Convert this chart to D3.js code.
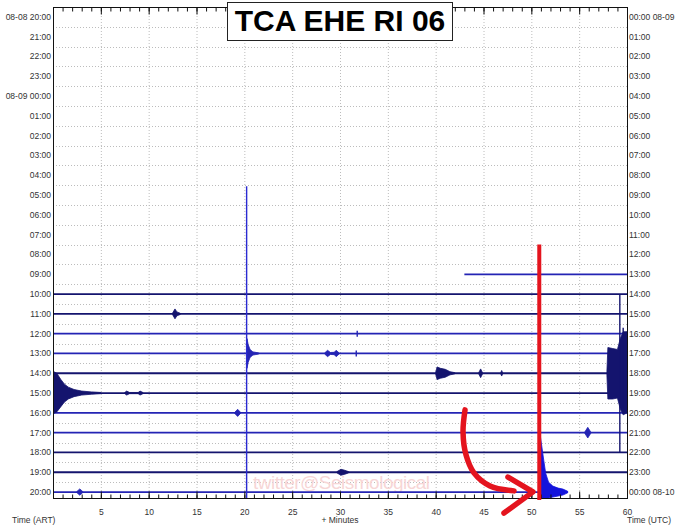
<!DOCTYPE html>
<html>
<head>
<meta charset="utf-8">
<script src="https://cdn.jsdelivr.net/npm/d3@7"></script>
<style>
  body { margin: 0; background: #fff; }
  svg { display: block; font-family: "Liberation Sans", Arial, sans-serif; }
</style>
</head>
<body>
<div id="chart"></div>
<script>
// Row labels (local time on the left, UTC on the right)
const leftLabels = ["08-08 20:00", "21:00", "22:00", "23:00", "08-09 00:00", "01:00", "02:00", "03:00",
  "04:00", "05:00", "06:00", "07:00", "08:00", "09:00", "10:00", "11:00", "12:00", "13:00", "14:00",
  "15:00", "16:00", "17:00", "18:00", "19:00", "20:00"];
const rightLabels = ["00:00 08-09", "01:00", "02:00", "03:00", "04:00", "05:00", "06:00", "07:00",
  "08:00", "09:00", "10:00", "11:00", "12:00", "13:00", "14:00", "15:00", "16:00", "17:00", "18:00",
  "19:00", "20:00", "21:00", "22:00", "23:00", "00:00 08-10"];
const minuteTicks = [5, 10, 15, 20, 25, 30, 35, 40, 45, 50, 55, 60];

// Rows that hold data, with start/end minute of the recorded trace
const traceRows  = [13, 14, 15, 16, 17, 18, 19, 20, 21, 22, 23, 24];
const traceStart = [43, 0, 0, 0, 0, 0, 0, 0, 0, 0, 0, 0];
const traceEnd   = [60, 60, 60, 60, 60, 60, 60, 60, 60, 60, 60, 53.8];

// Event envelopes: [minute, amplitude up, amplitude down] in row units
const eventRows = [15, 17, 17, 18, 18, 18, 18, 19, 19, 20, 21, 23, 24, 24];
const eventEnvelopes = [
  [[12.5, 0.04, 0.04], [12.75, 0.25, 0.25], [12.95, 0.1, 0.1], [13.3, 0.03, 0.03]],
  [[20.24, 0.1, 0.1], [20.28, 0.75, 0.75], [20.4, 0.45, 0.45], [20.6, 0.2, 0.2], [20.9, 0.08, 0.08], [21.5, 0.03, 0.03]],
  [[28.4, 0.03, 0.03], [28.7, 0.16, 0.16], [29.0, 0.05, 0.05], [29.4, 0.06, 0.06], [29.6, 0.16, 0.16], [29.9, 0.03, 0.03]],
  [[40.0, 0.05, 0.05], [40.15, 0.32, 0.32], [40.5, 0.25, 0.25], [41.0, 0.2, 0.2], [41.5, 0.08, 0.08], [42.0, 0.03, 0.03]],
  [[44.5, 0.03, 0.03], [44.7, 0.22, 0.22], [44.9, 0.03, 0.03]],
  [[46.8, 0.03, 0.03], [46.9, 0.14, 0.14], [47.0, 0.03, 0.03]],
  [[57.9, 0.1, 0.1], [58.0, 1.3, 1.3], [58.5, 1.25, 1.3], [59.0, 1.2, 1.25], [59.3, 1.75, 1.8], [59.6, 2.1, 2.1], [60, 2.1, 2.0]],
  [[0, 1.1, 1.05], [0.4, 1.0, 0.95], [0.8, 0.7, 0.7], [1.2, 0.45, 0.45], [1.6, 0.3, 0.3], [2.2, 0.18, 0.18], [3.0, 0.1, 0.1], [4.0, 0.06, 0.06], [5.0, 0.03, 0.03]],
  [[7.5, 0.03, 0.03], [7.7, 0.1, 0.1], [8.0, 0.03, 0.03], [8.9, 0.03, 0.03], [9.1, 0.1, 0.1], [9.4, 0.03, 0.03]],
  [[19.0, 0.03, 0.03], [19.3, 0.18, 0.18], [19.6, 0.03, 0.03]],
  [[55.6, 0.04, 0.04], [55.9, 0.27, 0.27], [56.2, 0.04, 0.04]],
  [[29.7, 0.04, 0.04], [30.1, 0.15, 0.15], [30.5, 0.1, 0.1], [30.9, 0.03, 0.03]],
  [[2.5, 0.03, 0.03], [2.8, 0.16, 0.16], [3.1, 0.03, 0.03]],
  [[50.95, 2.8, 0.35], [51.3, 1.6, 0.35], [51.5, 0.95, 0.35], [51.8, 0.5, 0.3], [52.25, 0.3, 0.25], [52.8, 0.2, 0.2], [53.3, 0.15, 0.15], [53.8, 0.04, 0.04]]
];

// Single spikes: row, minute, amplitude up / down (rows)
const spikeRows    = [17, 16, 17, 18, 18, 24];
const spikeMinutes = [20.24, 31.8, 31.7, 59.25, 59.6, 50.85];
const spikeUp      = [8.45, 0.15, 0.15, 3.95, 2.3, 12.4];
const spikeDown    = [7.5, 0.15, 0.15, 4.0, 1.8, 0.4];

// Hand-drawn annotation: red marker line and arrow, in (minute, row)
const markerLine = [[50.83, 11.5], [50.83, 24.4]];
const arrowCurve = [[43.07, 19.85], [42.86, 20.96], [43.17, 22.12], [44.0, 23.03], [45.68, 23.69], [48.19, 23.94]];
const arrowHead = [[47.56, 23.24], [50.17, 23.99], [47.14, 25.06]];

const width = 680, height = 529;
const margin = { top: 7, right: 53, bottom: 31, left: 53 };

const svg = d3.select("#chart").append("svg")
  .attr("width", width)
  .attr("height", height);

const x = d3.scaleLinear().domain([0, 60]).range([margin.left, width - margin.right]);
const y = d3.scaleLinear().domain([-0.5, 24.3]).range([margin.top, height - margin.bottom]);

svg.append("clipPath").attr("id", "plot-clip")
  .append("rect")
  .attr("x", x(0)).attr("y", y(-0.5))
  .attr("width", x(60) - x(0)).attr("height", y(24.3) - y(-0.5));

// Dotted grid
const grid = svg.append("g")
  .attr("stroke", "#bcbcbc")
  .attr("stroke-dasharray", "1,2")
  .attr("stroke-width", 1);
grid.selectAll("line.v")
  .data(minuteTicks.filter(d => d < 60))
  .join("line")
  .attr("class", "v")
  .attr("x1", d => x(d) + 0.5).attr("x2", d => x(d) + 0.5)
  .attr("y1", y(-0.5)).attr("y2", y(24.3));
grid.selectAll("line.h")
  .data(d3.range(0, 24))
  .join("line")
  .attr("class", "h")
  .attr("x1", x(0)).attr("x2", x(60))
  .attr("y1", d => Math.round(y(d + 0.5)) + 0.5)
  .attr("y2", d => Math.round(y(d + 0.5)) + 0.5);

// Watermark (sits under the traces)
svg.append("text")
  .attr("x", 253).attr("y", 489)
  .attr("textLength", 177)
  .attr("fill", "#f7d6d6")
  .style("font-size", "19px")
  .text("twitter@Seismological");

// Trace colours alternate by pairs of rows
const rowColor = r => (Math.floor(r / 2) % 2 === 0) ? "#2424b4" : "#14146e";

const traces = svg.append("g").attr("clip-path", "url(#plot-clip)");

traces.selectAll("line.trace")
  .data(traceRows)
  .join("line")
  .attr("class", "trace")
  .attr("x1", (d, i) => x(traceStart[i]))
  .attr("x2", (d, i) => x(traceEnd[i]))
  .attr("y1", d => y(d)).attr("y2", d => y(d))
  .attr("stroke", d => rowColor(d))
  .attr("stroke-width", 1.8);

traces.selectAll("path.event")
  .data(eventEnvelopes)
  .join("path")
  .attr("class", "event")
  .attr("fill", (d, i) => i === eventEnvelopes.length - 1 ? "#1414dc" : rowColor(eventRows[i]))
  .attr("stroke", (d, i) => i === eventEnvelopes.length - 1 ? "#1414dc" : rowColor(eventRows[i]))
  .attr("stroke-width", 0.8)
  .attr("d", (d, i) => d3.area()
    .x(p => x(p[0]))
    .y0(p => y(eventRows[i] + p[2]))
    .y1(p => y(eventRows[i] - p[1]))(d));

traces.selectAll("line.spike")
  .data(spikeRows)
  .join("line")
  .attr("class", "spike")
  .attr("x1", (d, i) => x(spikeMinutes[i])).attr("x2", (d, i) => x(spikeMinutes[i]))
  .attr("y1", (d, i) => y(d - spikeUp[i]))
  .attr("y2", (d, i) => y(d + spikeDown[i]))
  .attr("stroke", (d, i) => i === 0 ? "#2a2ad2" : (i === 5 ? "#1414dc" : rowColor(d)))
  .attr("stroke-width", 1.4);

// Frame
svg.append("rect")
  .attr("x", x(0) + 0.5).attr("y", y(-0.5) + 0.5)
  .attr("width", x(60) - x(0)).attr("height", y(24.3) - y(-0.5))
  .attr("fill", "none")
  .attr("stroke", "#111");

// Minute ticks (minor every minute, major every five) on top and bottom
const minorTicks = d3.range(1, 60);
const topMinor = svg.append("g").attr("transform", `translate(0,${y(-0.5) + 0.5})`)
  .call(d3.axisTop(x).tickValues(minorTicks).tickSize(-4).tickFormat(""));
const topMajor = svg.append("g").attr("transform", `translate(0,${y(-0.5) + 0.5})`)
  .call(d3.axisTop(x).tickValues(minuteTicks).tickSize(-7).tickFormat(""));
const botMinor = svg.append("g").attr("transform", `translate(0,${y(24.3) + 0.5})`)
  .call(d3.axisBottom(x).tickValues(minorTicks).tickSize(-4).tickFormat(""));
const botMajor = svg.append("g").attr("transform", `translate(0,${y(24.3) + 0.5})`)
  .call(d3.axisBottom(x).tickValues(minuteTicks).tickSize(-7).tickPadding(10));
[topMinor, topMajor, botMinor, botMajor].forEach(a => {
  a.select(".domain").remove();
  a.selectAll(".tick line").attr("stroke", "#111");
});
botMajor.selectAll(".tick text")
  .attr("fill", "#333")
  .style("font-size", "8.5px")
  .style("font-family", "'Liberation Sans', Arial, sans-serif");

// Row labels
svg.append("g").selectAll("text")
  .data(leftLabels)
  .join("text")
  .attr("x", x(0) - 2)
  .attr("y", (d, i) => y(i) + 3)
  .attr("text-anchor", "end")
  .attr("fill", "#333")
  .style("font-size", "8.5px")
  .text(d => d);

svg.append("g").selectAll("text")
  .data(rightLabels)
  .join("text")
  .attr("x", x(60) + 2)
  .attr("y", (d, i) => y(i) + 3)
  .attr("fill", "#333")
  .style("font-size", "8.5px")
  .text(d => d);

// Axis titles
svg.append("text").attr("x", 12).attr("y", 523)
  .attr("fill", "#333").style("font-size", "8.5px").text("Time (ART)");
svg.append("text").attr("x", (x(0) + x(60)) / 2).attr("y", 523)
  .attr("text-anchor", "middle")
  .attr("fill", "#333").style("font-size", "8.5px").text("+ Minutes");
svg.append("text").attr("x", x(60)).attr("y", 523)
  .attr("fill", "#333").style("font-size", "8.5px").text("Time (UTC)");

// Title box
svg.append("rect")
  .attr("x", 227.5).attr("y", 2.5)
  .attr("width", 225).attr("height", 38)
  .attr("fill", "#fff")
  .attr("stroke", "#222");
svg.append("text")
  .attr("x", 340).attr("y", 31)
  .attr("text-anchor", "middle")
  .attr("fill", "#000")
  .style("font-size", "30px")
  .style("font-weight", "bold")
  .text("TCA EHE RI 06");

// Red annotation
const red = "#e4141e";
svg.append("path")
  .attr("d", d3.line().x(p => x(p[0])).y(p => y(p[1]))(markerLine))
  .attr("stroke", red).attr("stroke-width", 4).attr("fill", "none");
svg.append("path")
  .attr("d", d3.line().curve(d3.curveCatmullRom).x(p => x(p[0])).y(p => y(p[1]))(arrowCurve))
  .attr("stroke", red).attr("stroke-width", 5.5).attr("fill", "none")
  .attr("stroke-linecap", "round");
svg.append("path")
  .attr("d", d3.line().x(p => x(p[0])).y(p => y(p[1]))(arrowHead))
  .attr("stroke", red).attr("stroke-width", 5.5).attr("fill", "none")
  .attr("stroke-linecap", "round").attr("stroke-linejoin", "round");
</script>
</body>
</html>
